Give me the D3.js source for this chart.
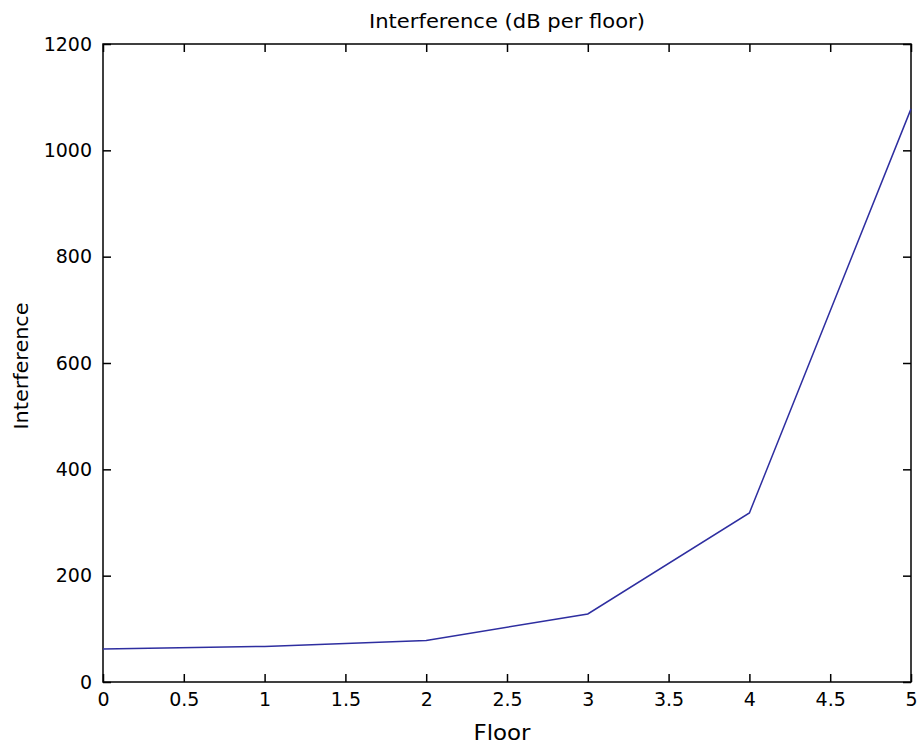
<!DOCTYPE html>
<html><head><meta charset="utf-8">
<script src="https://cdn.jsdelivr.net/npm/d3@7"></script>
<style>body{margin:0;background:#fff}svg{display:block}text{font-family:"DejaVu Sans",sans-serif;fill:#000}</style>
</head><body>
<svg id="c" width="920" height="744"></svg>
<script>
const floors = [0, 1, 2, 3, 4, 5];
const interference = [62, 67, 78, 128, 318, 1078];
const xTicks = [0, 0.5, 1, 1.5, 2, 2.5, 3, 3.5, 4, 4.5, 5];
const yTicks = [0, 200, 400, 600, 800, 1000, 1200];
const titleText = "Interference (dB per floor)";
const xLabel = "Floor";
const yLabel = "Interference";

const W = 920, H = 744;
const m = {left: 103, right: 9, top: 44, bottom: 62};
const svg = d3.select("#c");
const x = d3.scaleLinear().domain([0, 5]).range([m.left, W - m.right]);
const y = d3.scaleLinear().domain([0, 1200]).range([H - m.bottom, m.top]);
const fs = 19;
const ff = '"DejaVu Sans",sans-serif';

svg.append("rect").attr("x", x(0)).attr("y", y(1200))
  .attr("width", x(5) - x(0)).attr("height", y(0) - y(1200))
  .attr("fill", "none").attr("stroke", "#000").attr("stroke-width", 1.5);

const tl = 8;
const xb = svg.append("g").attr("transform", `translate(0,${y(0)})`)
  .call(d3.axisBottom(x).tickValues(xTicks).tickSize(-tl).tickPadding(11).tickFormat(d => String(d)));
const xt = svg.append("g").attr("transform", `translate(0,${y(1200)})`)
  .call(d3.axisTop(x).tickValues(xTicks).tickSize(-tl).tickFormat(""));
const yl = svg.append("g").attr("transform", `translate(${x(0)},0)`)
  .call(d3.axisLeft(y).tickValues(yTicks).tickSize(-tl).tickPadding(11).tickFormat(d => String(d)));
const yr = svg.append("g").attr("transform", `translate(${x(5)},0)`)
  .call(d3.axisRight(y).tickValues(yTicks).tickSize(-tl).tickFormat(""));
[xb, xt, yl, yr].forEach(g => {
  g.select(".domain").remove();
  g.selectAll(".tick line").attr("stroke", "#000").attr("stroke-width", 1.5);
  g.selectAll("text").attr("font-family", null).attr("font-size", null)
    .style("font-size", fs + "px").style("font-family", ff).attr("fill", "#000");
});

const line = d3.line().x((d, i) => x(floors[i])).y(d => y(d));
svg.append("path").datum(interference).attr("d", line)
  .attr("fill", "none").attr("stroke", "#2e2ea0").attr("stroke-width", 1.5);

svg.append("text").attr("x", (x(0) + x(5)) / 2).attr("y", 28)
  .attr("text-anchor", "middle").style("font-size", "20px")
  .attr("textLength", 276).attr("lengthAdjust", "spacingAndGlyphs").text(titleText);
svg.append("text").attr("x", (x(0) + x(5)) / 2 - 5).attr("y", 740)
  .attr("text-anchor", "middle").style("font-size", "21px")
  .attr("textLength", 57).attr("lengthAdjust", "spacingAndGlyphs").text(xLabel);
svg.append("text").attr("transform", `translate(28,${(y(0) + y(1200)) / 2 + 3}) rotate(-90)`)
  .attr("text-anchor", "middle").style("font-size", "20px")
  .attr("textLength", 127).attr("lengthAdjust", "spacingAndGlyphs").text(yLabel);
</script>
</body></html>
